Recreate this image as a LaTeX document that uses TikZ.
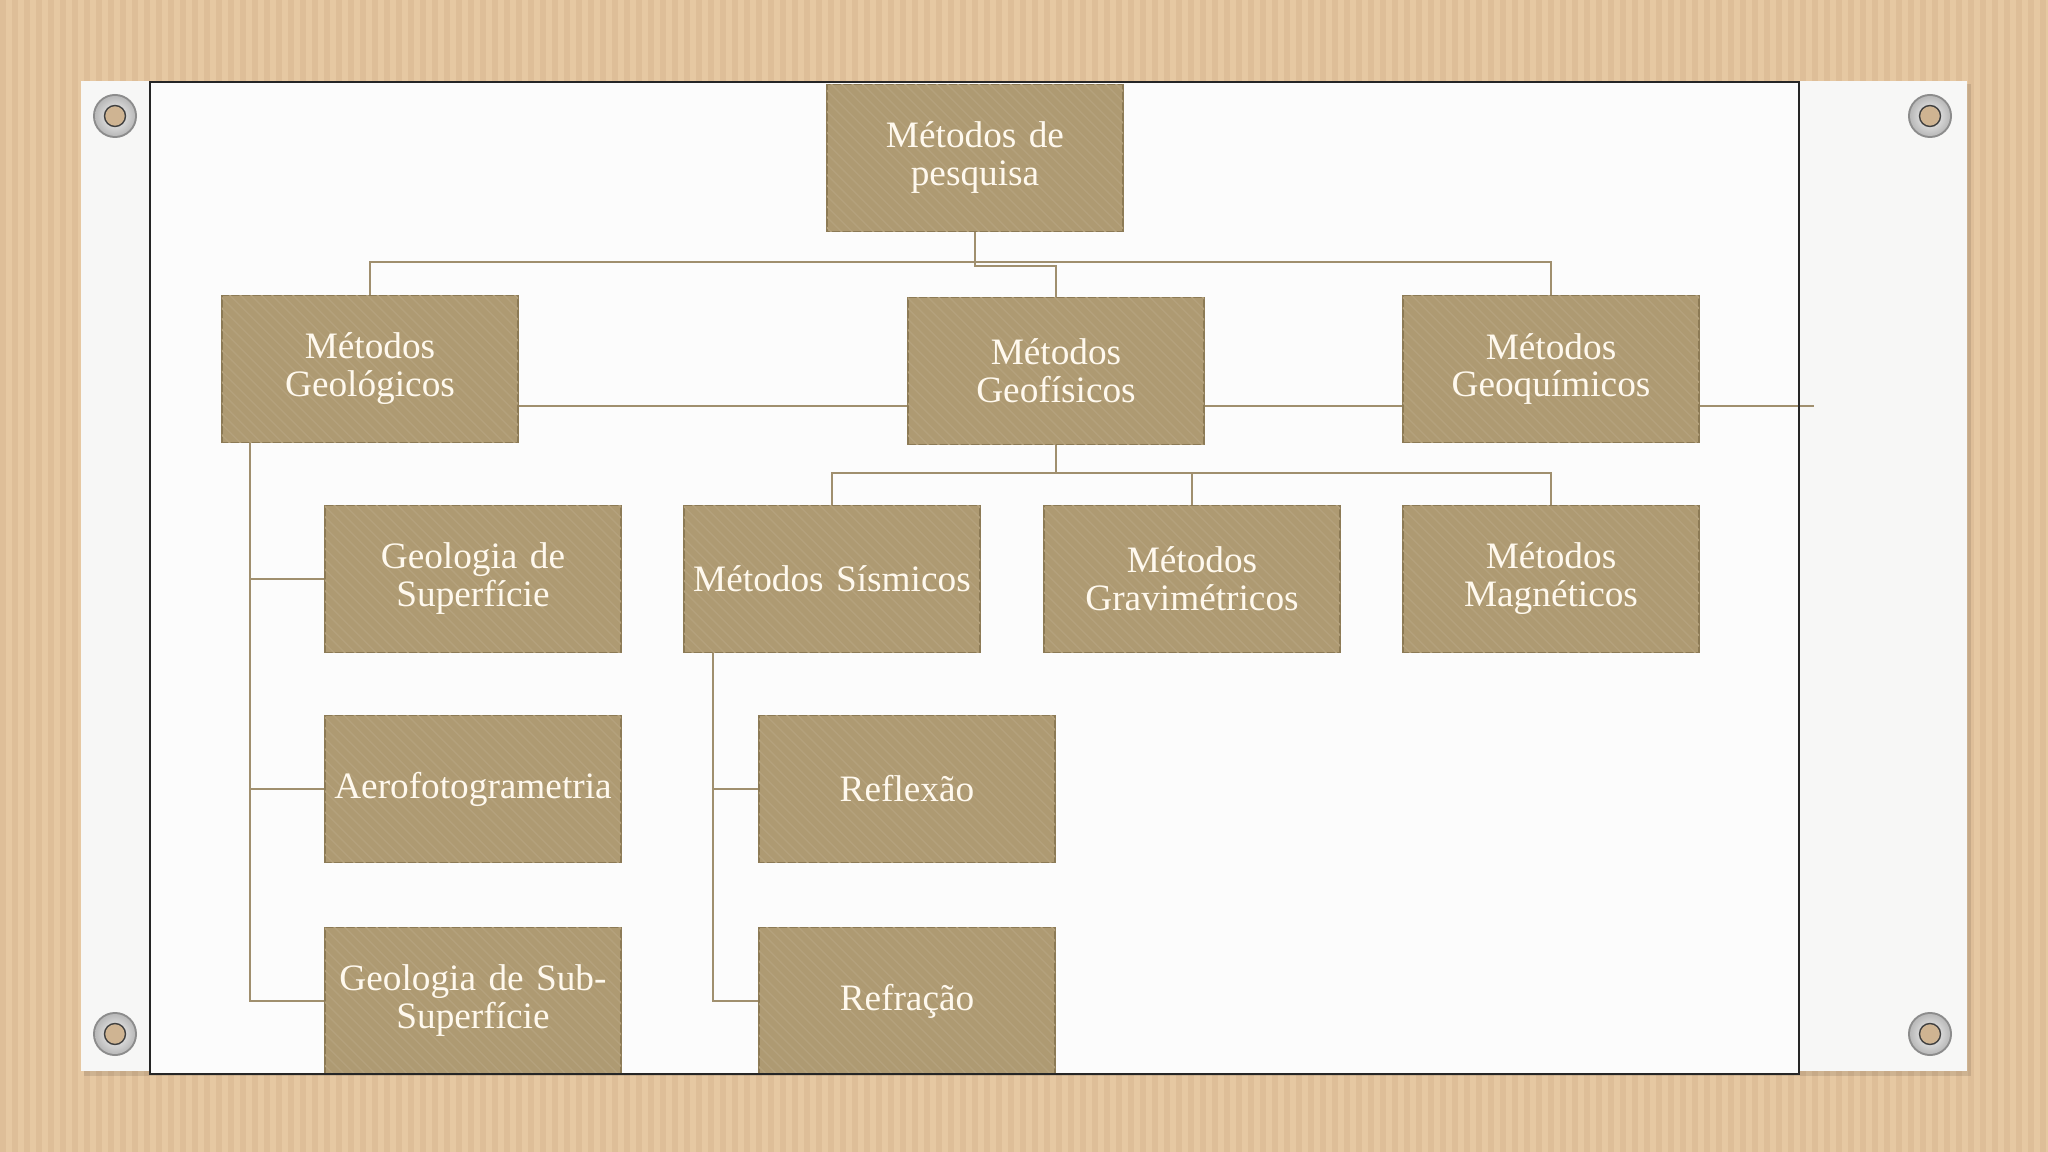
\documentclass[tikz,border=0pt]{standalone}
\usepackage{fontspec}
\setmainfont{Liberation Serif}[WordSpace=0.75]
\usetikzlibrary{patterns}

\definecolor{cardboard}{HTML}{E6C8A2}
\definecolor{cardstripe}{HTML}{DBBB94}
\definecolor{paper}{HTML}{F7F7F6}
\definecolor{boxfill}{HTML}{AE9A72}
\definecolor{boxedge}{HTML}{8C7A55}
\definecolor{boxtext}{HTML}{FFF9EE}
\definecolor{linkcol}{HTML}{A08F6E}

\begin{document}
\begin{tikzpicture}[x=0.01cm, y=-0.01cm,
    method/.style={rectangle, draw=boxedge, line width=0.5pt, fill=boxfill,
      postaction={pattern=north west lines, pattern color=boxfill!93!white},
      minimum width=2.96cm, minimum height=1.47cm, text width=2.94cm,
      align=center, inner sep=0pt, text=boxtext,
      font=\fontsize{10.6}{10.8}\selectfont},
    link/.style={draw=linkcol, line width=0.6pt},
    frame/.style={draw=black!85, line width=0.8pt}
]
\useasboundingbox (0,0) rectangle (2048,1152);

% cardboard and paper
\fill[cardboard] (0,0) rectangle (2048,1152);
\foreach \x in {0,12,...,2040}
  \fill[cardstripe, opacity=.7] (\x,0) rectangle ++(6,1152);
\fill[black, opacity=.10] (84,84) rectangle (1971,1076);
\fill[paper] (81,81) rectangle (1967,1071);
\fill[white!98!gray] (150,82) rectangle (1799,1074);

% grommets
\foreach \p in {(115,116),(1930,116),(115,1034),(1930,1034)} {
  \fill[black!45] \p circle (22);
  \shade[inner color=gray!5, outer color=gray!55] \p circle (20);
  \fill[cardboard!90!black] \p circle (10.5);
  \draw[gray!50!black, line width=0.4pt] \p circle (10.5);
}

\node[method] (root) at (975,158) {Métodos de\\pesquisa};

\node[method] (geol) at (370,369) {Métodos\\Geológicos};
\node[method] (geof) at (1056,371) {Métodos\\Geofísicos};
\node[method] (geoq) at (1551,369) {Métodos\\Geoquímicos};

\node[method] (supf) at (473,579) {Geologia de\\Superfície};
\node[method] (sism) at (832,579) {Métodos Sísmicos};
\node[method] (grav) at (1192,579) {Métodos\\Gravimétricos};
\node[method] (magn) at (1551,579) {Métodos\\Magnéticos};

\node[method] (aero) at (473,789) {Aerofotogrametria};
\node[method] (refl) at (907,789) {Reflexão};

\node[method] (subs) at (473,1001) {Geologia de Sub-\\Superfície};
\node[method] (refr) at (907,1001) {Refração};

% connectors
\coordinate (midline) at (0,406);
\coordinate (tail) at (1814,406);

\draw[link] (root.south) -- ++(0,34) -| (geof.north);
\draw[link] (geol.north) -- ++(0,-33) -| (geoq.north);
\draw[link] (geol.east |- midline) -- (geof.west |- midline);
\draw[link] (geof.east |- midline) -- (geoq.west |- midline);
\draw[link] (geoq.east |- midline) -- (tail);
\foreach \n in {sism,grav,magn}
  \draw[link] (geof.south) -- ++(0,28) -| (\n.north);
\foreach \n in {supf,aero,subs}
  \draw[link] ([xshift=0.29cm]geol.south west) |- (\n.west);
\foreach \n in {refl,refr}
  \draw[link] ([xshift=0.30cm]sism.south west) |- (\n.west);

\draw[frame] (150,82) rectangle (1799,1074);

\end{tikzpicture}
\end{document}
